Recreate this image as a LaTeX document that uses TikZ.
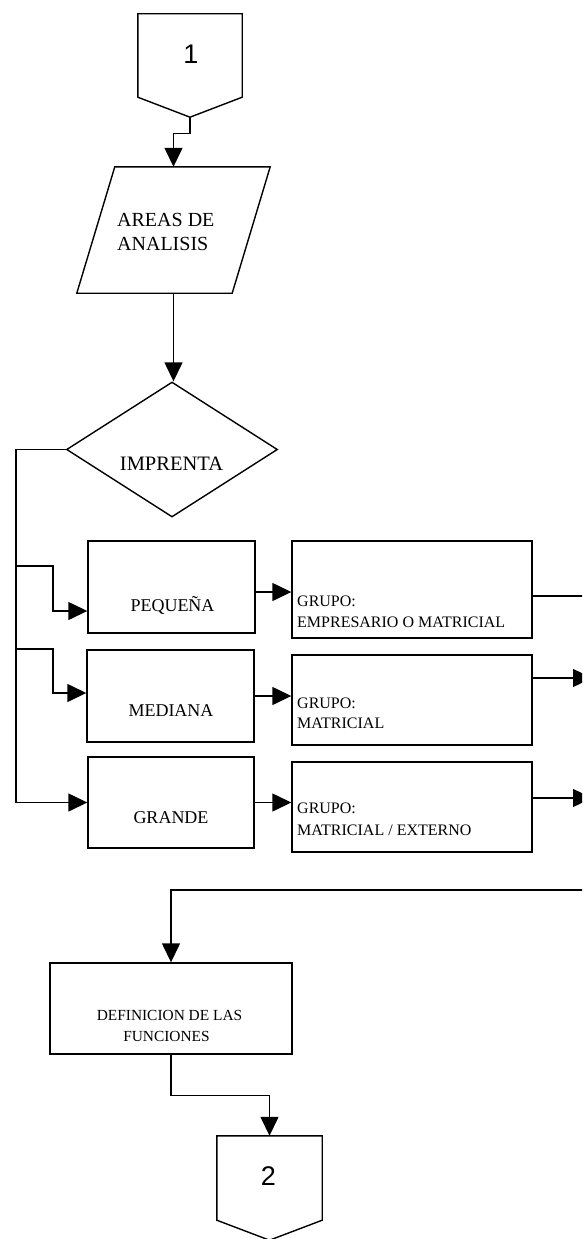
\documentclass[tikz,border=0pt]{standalone}
\usepackage{fontspec}
\setmainfont{Liberation Serif}
\newfontfamily\digitfont{Liberation Sans}
\usetikzlibrary{arrows.meta,shapes.geometric,calc}

\tikzset{
  line/.style={line width=1.4pt, line join=miter},
  arr/.style={line, -{Triangle[length=19pt,width=18pt]}},
  box/.style={draw, line width=1.4pt, rectangle, inner sep=0pt},
  frame/.style={rectangle, inner sep=0pt},
  lbl/.style={inner sep=0pt, anchor=base},
  lbll/.style={inner sep=0pt, anchor=base west},
  bigtxt/.style={font=\fontsize{20}{23}\selectfont},
  midtxt/.style={font=\fontsize{18}{20}\selectfont},
  smalltxt/.style={font=\fontsize{16}{20}\selectfont},
  deftxt/.style={font=\fontsize{15.4}{20}\selectfont},
  numtxt/.style={font=\digitfont\fontsize{27}{27}\selectfont}
}

% off-page connector: box with a pointed bottom
\newcommand\pagelink[1]{%
  \draw[line] (#1.north west) -- (#1.north east) -- (#1.south east)
    -- ($(#1.south)+(0,20)$) -- (#1.south west) -- cycle;}

\begin{document}
\begin{tikzpicture}[x=1pt,y=-1pt]
\clip (0,0) rectangle (582,1239);
\fill[white] (0,0) rectangle (582,1239);

% --- connector 1 ---
\node[frame, minimum width=104pt, minimum height=83pt] (c1) at (190,55.5) {};
\pagelink{c1}
\coordinate (c1tip) at ($(c1.south)+(0,20)$);
\node[lbl, numtxt] (n1) at (191,63.3) {1};

% --- input: areas de analisis ---
\node[frame, minimum width=155pt, minimum height=126pt] (areas) at (173.5,230) {};
\draw[line] ($(areas.north west)+(19,0)$) -- ($(areas.north east)+(19,0)$)
  -- ($(areas.south east)+(-19,0)$) -- ($(areas.south west)+(-19,0)$) -- cycle;
\node[lbll, bigtxt] (areas1) at (117,226.7) {AREAS DE};
\node[lbll, bigtxt] (areas2) at (117,250) {ANALISIS};

\draw[arr] (c1tip) -- ++(0,16) -| (areas.north);

% --- decision ---
\node[draw, line width=1.4pt, diamond, minimum width=211pt, minimum height=135pt,
      inner sep=0pt] (imp) at (172,449.5) {};
\node[lbl, font=\fontsize{20.5}{22}\selectfont] (impt) at (171.5,470) {IMPRENTA};
\draw[arr] (areas.south) -- (areas.south |- imp.north);

% --- size boxes ---
\node[box, minimum width=167pt, minimum height=92pt] (peq) at (171.5,587) {};
\node[box, minimum width=167pt, minimum height=92pt] (med) at (170.5,696) {};
\node[box, minimum width=166pt, minimum height=91pt] (gra) at (171,802.5) {};
\node[lbl, midtxt] (tpeq) at (172.5,611.7) {PEQUEÑA};
\node[lbl, midtxt] (tmed) at (171,716.7) {MEDIANA};
\node[lbl, midtxt] (tgra) at (171,823.3) {GRANDE};

% --- group boxes ---
\node[box, minimum width=240pt, minimum height=97pt] (gpeq) at (412,589.5) {};
\node[box, minimum width=240pt, minimum height=90pt] (gmed) at (412,700) {};
\node[box, minimum width=240pt, minimum height=90pt] (ggra) at (412,807) {};
\node[lbll, smalltxt] (gp1) at (297,606.7) {GRUPO:};
\node[lbll, smalltxt] (gp2) at (297,627) {EMPRESARIO O MATRICIAL};
\node[lbll, smalltxt] (gm1) at (297,708.3) {GRUPO:};
\node[lbll, smalltxt] (gm2) at (297,728.3) {MATRICIAL};
\node[lbll, smalltxt] (gg1) at (297,813.3) {GRUPO:};
\node[lbll, smalltxt] (gg2) at (297,835) {MATRICIAL / EXTERNO};

% --- branches from the decision ---
\coordinate (bus) at (16,447);
\draw[arr] (imp.west) -- (imp.west -| bus) -- (bus |- gra.west) -- (gra.west);
\coordinate (j1) at (16,566);
\coordinate (k1) at (53,611);
\draw[arr] (j1) -- (j1 -| k1) -- (k1) -- (k1 -| peq.west);
\coordinate (j2) at (16,649);
\coordinate (k2) at (53,693);
\draw[arr] (j2) -- (j2 -| k2) -- (k2) -- (k2 -| med.west);

% --- size to group ---
\coordinate (pq) at ($(peq.east)+(0,5)$);
\draw[arr] (pq) -- (pq -| gpeq.west);
\draw[arr] (med.east) -- (med.east -| gmed.west);
\draw[arr] (gra.east) -- (gra.east -| ggra.west);

% --- final box ---
\node[box, minimum width=242pt, minimum height=91pt] (def) at (171,1008.5) {};
\node[lbl, deftxt] (def1) at (169.5,1020) {DEFINICION DE LAS};
\node[lbl, deftxt] (def2) at (166.5,1041.7) {FUNCIONES};

% --- exits on the right ---
\coordinate (rr) at (600,0);
\coordinate (tipx) at (592,0);
\coordinate (back) at (0,890);
\coordinate (xp) at ($(gpeq.east)+(0,6.5)$);
\draw[arr] (xp) -- (xp -| rr) -- (rr |- back) -- (back -| def.north) -- (def.north);
\coordinate (xm) at ($(gmed.east)+(0,-22)$);
\draw[arr] (xm) -- (xm -| tipx);
\coordinate (xg) at ($(ggra.east)+(0,-9)$);
\draw[arr] (xg) -- (xg -| tipx);

% --- connector 2 ---
\node[frame, minimum width=105pt, minimum height=84pt] (c2) at (269.5,1178) {};
\pagelink{c2}
\node[lbl, numtxt] (n2) at (268.5,1185) {2};
\coordinate (d1) at ($(def.south)+(0,41)$);
\draw[arr] (def.south) -- (d1) -| (c2.north);

\end{tikzpicture}
\end{document}
